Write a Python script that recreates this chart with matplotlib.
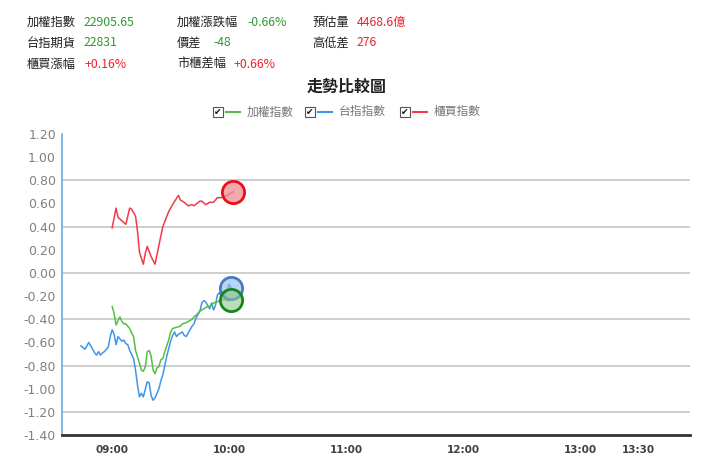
import matplotlib
matplotlib.use("Agg")
import matplotlib.pyplot as plt
from matplotlib.patches import Rectangle

# ---------------- data ----------------
red_t = [0, 2, 3, 5, 7, 9, 10, 12, 13, 14, 16, 17, 18, 20, 22, 24, 26, 29, 31, 34, 35,
         37, 39, 41, 42, 45, 46, 48, 50, 52, 54, 56, 59, 62]
red_v = [0.39, 0.56, 0.48, 0.45, 0.42, 0.56, 0.55, 0.49, 0.36, 0.18, 0.075, 0.17, 0.23,
         0.14, 0.075, 0.24, 0.40, 0.53, 0.59, 0.67, 0.63, 0.61, 0.58, 0.59, 0.58, 0.62,
         0.62, 0.59, 0.61, 0.61, 0.65, 0.65, 0.67, 0.70]

blue_t = [-16, -14, -13, -12, -10, -9, -8, -7, -6, -5, -4, -2, -1, 0, 1, 2, 3, 5, 6, 7, 8,
          9, 11, 12, 13, 14, 15, 16, 18, 19, 20, 21, 22, 24, 25, 26, 28, 30, 31, 32, 33,
          34, 36, 37, 38, 40, 41, 42, 43, 45, 46, 47, 48, 49, 50, 51, 52, 53, 54, 55, 56,
          58, 59, 60, 61]
blue_v = [-0.63, -0.66, -0.63, -0.60, -0.66, -0.69, -0.71, -0.68, -0.71, -0.69, -0.68,
          -0.64, -0.55, -0.49, -0.53, -0.62, -0.55, -0.59, -0.58, -0.61, -0.62, -0.67,
          -0.74, -0.84, -0.97, -1.07, -1.04, -1.07, -0.94, -0.95, -1.06, -1.10, -1.08,
          -1.00, -0.93, -0.88, -0.72, -0.59, -0.54, -0.51, -0.55, -0.53, -0.51, -0.54,
          -0.55, -0.49, -0.46, -0.44, -0.39, -0.33, -0.26, -0.24, -0.25, -0.28, -0.31,
          -0.26, -0.32, -0.28, -0.19, -0.17, -0.21, -0.18, -0.15, -0.10, -0.13]

green_t = [0, 1, 2, 3, 4, 5, 6, 7, 9, 10, 11, 12, 14, 15, 16, 17, 18, 19, 20, 21, 22, 23,
           24, 25, 26, 27, 29, 30, 31, 33, 35, 36, 38, 39, 41, 42, 44, 45, 47, 49, 50, 52,
           54, 56, 58, 60, 61]
green_v = [-0.29, -0.35, -0.45, -0.41, -0.38, -0.42, -0.44, -0.44, -0.48, -0.52, -0.55,
           -0.67, -0.78, -0.84, -0.85, -0.81, -0.68, -0.67, -0.72, -0.84, -0.87, -0.82,
           -0.81, -0.75, -0.74, -0.68, -0.58, -0.51, -0.48, -0.47, -0.46, -0.44, -0.43,
           -0.42, -0.40, -0.38, -0.35, -0.33, -0.31, -0.29, -0.29, -0.26, -0.25, -0.23,
           -0.23, -0.24, -0.23]

x_tick_pos = [0, 60, 120, 180, 240, 270]      # minutes after 09:00
x_tick_lab = ["09:00", "10:00", "11:00", "12:00", "13:00", "13:30"]
y_ticks = [1.2, 1.0, 0.8, 0.6, 0.4, 0.2, 0.0, -0.2, -0.4, -0.6, -0.8, -1.0, -1.2, -1.4]
grid_levels = [0.8, 0.4, 0.0, -0.4, -0.8, -1.2]

header = [
    # (label, value, value colour key) rows x columns
    [("加權指數", "22905.65", "g"), ("加權漲跌幅", "-0.66%", "g"), ("預估量", "4468.6億", "r")],
    [("台指期貨", "22831", "g"), ("價差", "-48", "g"), ("高低差", "276", "r")],
    [("櫃買漲幅", "+0.16%", "r"), ("市櫃差幅", "+0.66%", "r"), None],
]
title = "走勢比較圖"
legend_names = ["加權指數", "台指指數", "櫃買指數"]

# ---------------- style ----------------
W, H = 720, 470
CJK = ["Noto Sans CJK TC", "DejaVu Sans"]
GREEN = "#52c040"
BLUE = "#3f95ea"
RED = "#f03a4a"
VAL = {"g": "#2f9a2f", "r": "#f0202e"}

fig = plt.figure(figsize=(W / 100, H / 100), dpi=100)
fig.patch.set_facecolor("white")

def fx(x):
    return x / W

def fy(y):
    return 1 - y / H

ax = fig.add_axes([fx(61.5), fy(435), fx(690) - fx(61.5), fy(134) - fy(435)])
ax.set_xlim(-26, 296.5)
ax.set_ylim(-1.4, 1.2)

for g in grid_levels:
    ax.axhline(g, color="#c6c6c6", lw=1.2, zorder=1)

ax.plot(red_t, red_v, color=RED, lw=1.1, zorder=3)
ax.plot(blue_t, blue_v, color=BLUE, lw=1.1, zorder=3)
ax.plot(green_t, green_v, color=GREEN, lw=1.1, zorder=3)

# end markers
ax.plot(red_t[-1], red_v[-1], "o", ms=16, mfc=(0.95, 0.55, 0.58, 0.75), mec="#e8101c", mew=2, zorder=5)
ax.plot(blue_t[-1], blue_v[-1], "o", ms=16, mfc=(0.55, 0.72, 0.92, 0.6), mec="#4a78c4", mew=2, zorder=5)
ax.plot(green_t[-1], green_v[-1], "o", ms=16, mfc=(0.55, 0.78, 0.55, 0.6), mec="#16881a", mew=2, zorder=6)

for s in ["top", "right"]:
    ax.spines[s].set_visible(False)
ax.spines["left"].set_color("#6aaae8")
ax.spines["left"].set_linewidth(1.2)
ax.spines["bottom"].set_color("#333333")
ax.spines["bottom"].set_linewidth(2)

ax.set_yticks(y_ticks)
ax.set_yticklabels([f"{v:.2f}" for v in y_ticks], fontsize=9, color="#808080", family="DejaVu Sans")
ax.set_xticks(x_tick_pos)
ax.set_xticklabels(x_tick_lab, fontsize=7.5, color="#404040", fontweight="bold", family="DejaVu Sans")
ax.tick_params(axis="both", length=0)
ax.tick_params(axis="y", pad=4)
ax.tick_params(axis="x", pad=7)

# ---------------- header ----------------
col_label_x = [27, 177, 312]
col_value_x = [[84, 247, 357], [84, 213, 357], [84, 233, 357]]
row_y = [22, 43, 64]
for r, row in enumerate(header):
    for c, cell in enumerate(row):
        if cell is None:
            continue
        lab, val, col = cell
        fig.text(fx(col_label_x[c]), fy(row_y[r]), lab, family=CJK, fontsize=8.8,
                 color="#222222", va="center", ha="left")
        fig.text(fx(col_value_x[r][c]), fy(row_y[r]), val, family=CJK, fontsize=8.8,
                 color=VAL[col], va="center", ha="left")

fig.text(fx(347), fy(87), title, family=CJK, fontsize=11.5, color="#222222",
         va="center", ha="center", fontweight="bold")

# legend
leg_box_x = [213, 305, 400]
leg_cols = [GREEN, BLUE, RED]
leg_y = 112
for bx, col, name in zip(leg_box_x, leg_cols, legend_names):
    fig.patches.append(Rectangle((fx(bx), fy(leg_y + 5)), fx(10), 10 / H,
                                 transform=fig.transFigure, facecolor="white",
                                 edgecolor="#555555", lw=0.8))
    fig.text(fx(bx + 5), fy(leg_y), "✔", family="DejaVu Sans", fontsize=6.5,
             color="#111111", ha="center", va="center")
    fig.lines.append(plt.Line2D([fx(bx + 13), fx(bx + 27)], [fy(leg_y), fy(leg_y)],
                                transform=fig.transFigure, color=col, lw=1.5))
    fig.text(fx(bx + 34), fy(leg_y), name, family=CJK, fontsize=8.5,
             color="#777777", ha="left", va="center")

fig.savefig("out.png", dpi=100, facecolor="white")
